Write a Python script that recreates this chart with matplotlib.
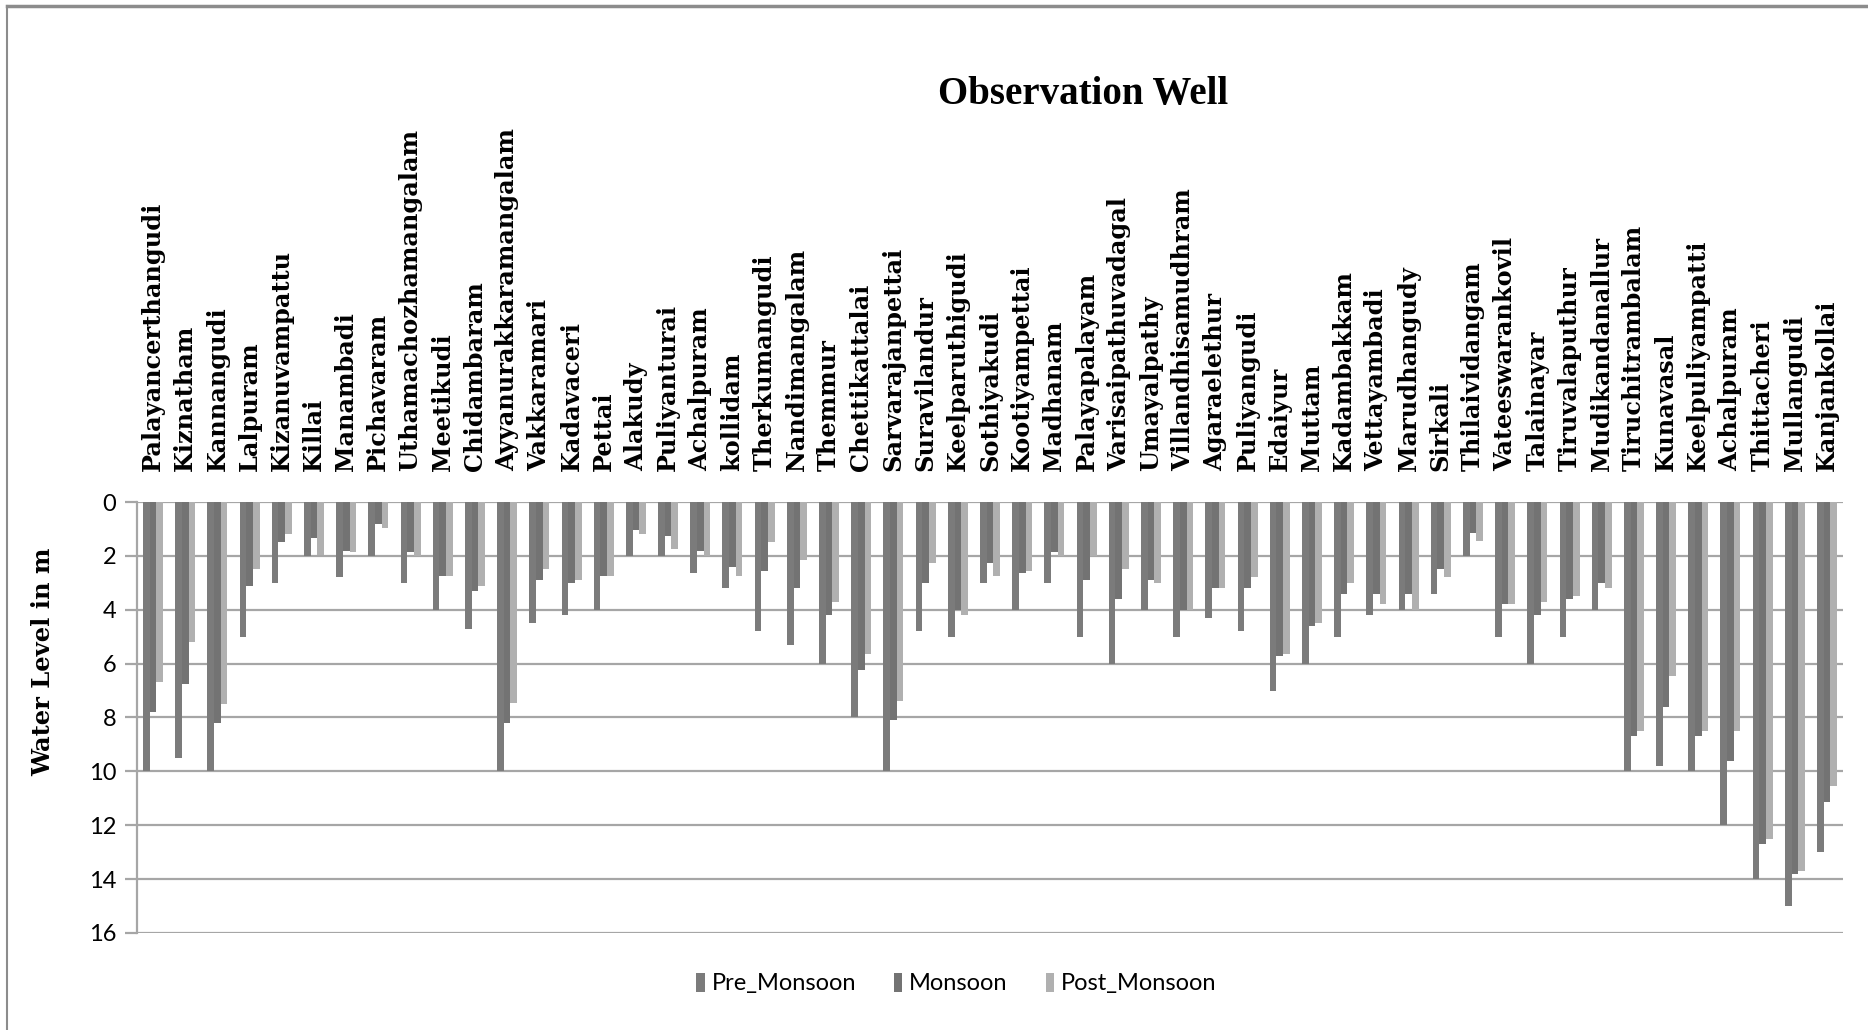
import numpy as np
import matplotlib
matplotlib.use("Agg")
import matplotlib.pyplot as plt
from matplotlib.lines import Line2D

wells = ['Palayancerthangudi', 'Kiznatham', 'Kannangudi', 'Lalpuram', 'Kizanuvampattu',
         'Killai', 'Manambadi', 'Pichavaram', 'Uthamachozhamangalam', 'Meetikudi',
         'Chidambaram', 'Ayyanurakkaramangalam', 'Vakkaramari', 'Kadavaceri', 'Pettai',
         'Alakudy', 'Puliyanturai', 'Achalpuram', 'kollidam', 'Therkumangudi',
         'Nandimangalam', 'Themmur', 'Chettikattalai', 'Sarvarajanpettai', 'Suravilandur',
         'Keelparuthigudi', 'Sothiyakudi', 'Kootiyampettai', 'Madhanam', 'Palayapalayam',
         'Varisaipathuvadagal', 'Umayalpathy', 'Villandhisamudhram', 'Agaraelethur',
         'Puliyangudi', 'Edaiyur', 'Muttam', 'Kadambakkam', 'Vettayambadi', 'Marudhangudy',
         'Sirkali', 'Thilaividangam', 'Vateeswarankovil', 'Talainayar', 'Tiruvalaputhur',
         'Mudikandanallur', 'Tiruchitrambalam', 'Kunavasal', 'Keelpuliyampatti',
         'Achalpuram', 'Thittacheri', 'Mullangudi', 'Kanjankollai']

pre_monsoon = [10.0, 9.5, 10.0, 5.0, 3.0, 2.0, 2.8, 2.0, 3.0, 4.0,
               4.7, 10.0, 4.5, 4.2, 4.0, 2.0, 2.0, 2.65, 3.2, 4.8,
               5.3, 6.0, 8.0, 10.0, 4.8, 5.0, 3.0, 4.0, 3.0, 5.0,
               6.0, 4.0, 5.0, 4.3, 4.8, 7.0, 6.0, 5.0, 4.2, 4.0,
               3.4, 2.0, 5.0, 6.0, 5.0, 4.0, 10.0, 9.8, 10.0, 12.0,
               14.0, 15.0, 13.0]
monsoon = [7.8, 6.75, 8.2, 3.1, 1.5, 1.35, 1.8, 0.8, 1.85, 2.75,
           3.3, 8.2, 2.9, 3.0, 2.75, 1.05, 1.25, 1.8, 2.4, 2.55,
           3.2, 4.2, 6.25, 8.1, 3.0, 4.0, 2.25, 2.65, 1.85, 2.9,
           3.6, 2.9, 4.0, 3.2, 3.2, 5.7, 4.6, 3.4, 3.4, 3.4,
           2.5, 1.15, 3.8, 4.2, 3.6, 3.0, 8.7, 7.6, 8.7, 9.6,
           12.7, 13.8, 11.15]
post_monsoon = [6.7, 5.2, 7.5, 2.5, 1.2, 1.95, 1.85, 0.95, 2.0, 2.75,
                3.1, 7.45, 2.5, 2.9, 2.75, 1.2, 1.75, 2.0, 2.75, 1.5,
                2.15, 3.7, 5.65, 7.4, 2.25, 4.2, 2.75, 2.55, 2.0, 2.0,
                2.5, 3.0, 4.0, 3.2, 2.8, 5.65, 4.5, 3.0, 3.8, 4.0,
                2.8, 1.45, 3.8, 3.7, 3.5, 3.2, 8.5, 6.45, 8.5, 8.5,
                12.5, 13.7, 10.55]

grid_grey = '#a6a6a6'

fig = plt.figure(figsize=(18.68, 10.30), dpi=100)
ax = fig.add_axes([0.0733, 0.0942, 0.9134, 0.4184])

x = np.arange(len(wells))
w = 0.207
ax.bar(x - w, pre_monsoon, w, color='#7b7b7b', label='Pre_Monsoon', zorder=3)
ax.bar(x, monsoon, w, color='#737373', label='Monsoon', zorder=3)
ax.bar(x + w, post_monsoon, w, color='#b0b0b0', label='Post_Monsoon', zorder=3)

ax.set_xlim(-0.5, len(wells) - 0.5)
ax.set_ylim(16, 0)
ax.set_yticks(range(0, 17, 2))
ax.yaxis.grid(True, color=grid_grey, lw=1.6)
ax.set_axisbelow(True)

# well names sit above the zero line
ax.xaxis.tick_top()
ax.set_xticks(x)
ax.set_xticklabels(wells, rotation=90, fontfamily='DejaVu Serif',
                   fontweight='bold', fontsize=17.3)
ax.tick_params(axis='x', length=0, pad=22)
ax.tick_params(axis='y', length=9, width=1.6, color=grid_grey, labelsize=17, pad=6)
for lab in ax.get_yticklabels():
    lab.set_fontfamily('Lato')

for side in ['right', 'bottom', 'top']:
    ax.spines[side].set_visible(False)
ax.spines['left'].set_color(grid_grey)
ax.spines['left'].set_linewidth(1.6)

ax.set_ylabel('Water Level in m', fontfamily='DejaVu Serif', fontweight='bold',
              fontsize=17.4)
ax.yaxis.set_label_coords(-0.048, 0.63)

fig.text(0.580, 0.908, 'Observation Well', ha='center', va='center',
         fontfamily='Liberation Serif', fontweight='bold', fontsize=28)

fig.legend(loc='center', bbox_to_anchor=(0.512, 0.045), ncol=3, frameon=False,
           prop={'family': 'Lato', 'size': 17}, handlelength=0.35,
           handleheight=0.85, handletextpad=0.3, columnspacing=1.6)

# chart frame
fig.add_artist(Line2D([0.004, 1.0], [0.994, 0.994], color='#8c8c8c', lw=2.5))
fig.add_artist(Line2D([0.004, 0.004], [0.0, 0.994], color='#8c8c8c', lw=1.5))

fig.savefig('out.png', dpi=100)
